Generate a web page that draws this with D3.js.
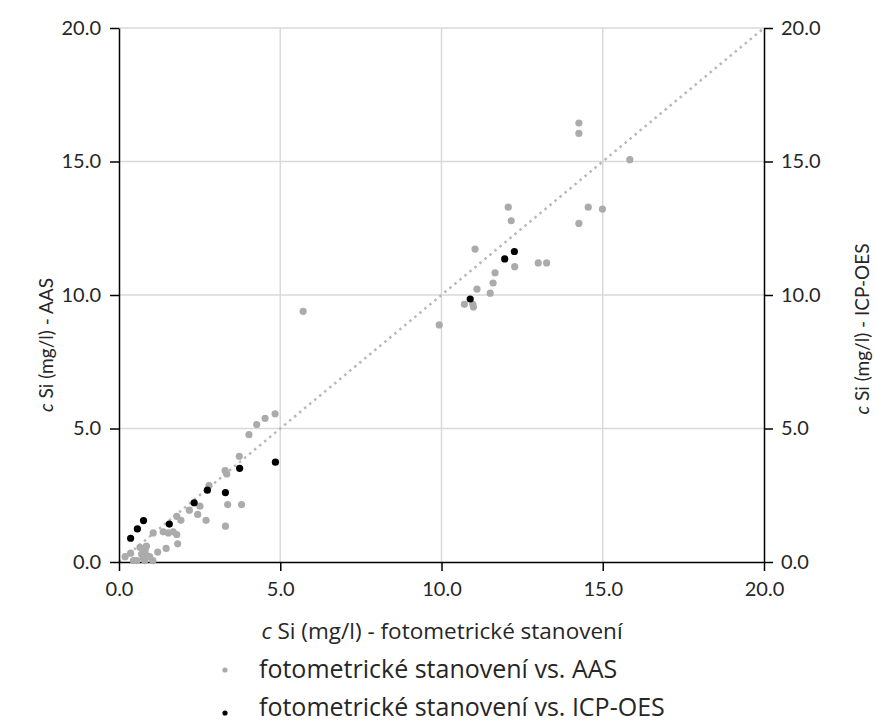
<!DOCTYPE html>
<html>
<head>
<meta charset="utf-8">
<script src="https://cdn.jsdelivr.net/npm/d3@7"></script>
<style>
  body { margin: 0; background: #fff; }
  text { font-family: Lato, "Liberation Sans", sans-serif; fill: #262626; }
</style>
</head>
<body>
<div id="chart"></div>
<script>
// fotometrické stanovení (x) vs. AAS (y)
let aasX = [14.26, 14.26, 15.84, 12.07, 12.16, 14.55, 14.99, 14.26, 11.04, 12.27, 13.0, 13.26,
    11.66, 11.6, 11.1, 11.51, 10.71, 10.97, 10.99, 9.93, 5.71, 4.84, 4.53, 4.27, 4.03, 3.73,
    3.29, 3.34, 2.79, 2.51, 3.37, 3.8, 2.18, 2.44, 1.92, 1.79, 2.7, 3.3, 1.06, 1.37, 1.53,
    1.68, 1.79, 1.82, 1.46, 1.2, 0.81, 0.7, 0.85, 0.75, 0.55, 0.45, 0.8, 1.05, 0.95, 0.36,
    0.19, 0.65, 0.85];
let aasY = [16.44, 16.05, 15.07, 13.29, 12.78, 13.29, 13.22, 12.68, 11.72, 11.06, 11.2, 11.2,
    10.83, 10.45, 10.22, 10.07, 9.65, 9.65, 9.55, 8.88, 9.39, 5.55, 5.38, 5.15, 4.77, 3.96,
    3.42, 3.3, 2.86, 2.09, 2.15, 2.15, 1.94, 1.78, 1.56, 1.71, 1.56, 1.34, 1.09, 1.13, 1.09,
    1.13, 1.03, 0.68, 0.51, 0.37, 0.44, 0.3, 0.25, 0.15, 0.05, 0.05, 0.05, 0.05, 0.2, 0.33,
    0.2, 0.55, 0.6];

// fotometrické stanovení (x) vs. ICP-OES (y)
let icpX = [0.36, 0.57, 0.76, 1.56, 2.33, 2.74, 3.3, 3.74, 4.85, 10.89, 11.96, 12.26];
let icpY = [0.89, 1.24, 1.55, 1.42, 2.22, 2.69, 2.6, 3.51, 3.74, 9.85, 11.35, 11.63];

let ticks = [0, 5, 10, 15, 20];
let legendNames = ["fotometrické stanovení vs. AAS", "fotometrické stanovení vs. ICP-OES"];

let width = 875, height = 722;
let margin = {top: 28, right: 111, bottom: 160, left: 119};

let svg = d3.select("#chart")
    .append("svg")
        .attr("width", width)
        .attr("height", height);

let x = d3.scaleLinear()
    .domain([0, 20])
    .range([margin.left, width - margin.right]);
let y = d3.scaleLinear()
    .domain([0, 20])
    .range([height - margin.bottom, margin.top]);

// grid
svg.append("g")
    .selectAll("line")
    .data(ticks.slice(1, 4))
    .enter()
    .append("line")
        .attr("x1", d => x(d)).attr("x2", d => x(d))
        .attr("y1", y(0)).attr("y2", y(20))
        .attr("stroke", "#d9d9d9").attr("stroke-width", 1.5);
svg.append("g")
    .selectAll("line")
    .data(ticks.slice(1))
    .enter()
    .append("line")
        .attr("x1", x(0)).attr("x2", x(20))
        .attr("y1", d => y(d)).attr("y2", d => y(d))
        .attr("stroke", "#d9d9d9").attr("stroke-width", 1.5);

// 1:1 line
svg.append("line")
    .attr("x1", x(0)).attr("y1", y(0))
    .attr("x2", x(20)).attr("y2", y(20))
    .attr("stroke", "#b8b8b8")
    .attr("stroke-width", 2.5)
    .attr("stroke-dasharray", "2.5,4");

// axes
let fmt = d3.format(".1f");
let styleAxis = function(g) {
    g.select(".domain").attr("stroke", "#000").attr("stroke-width", 1.5);
    g.selectAll(".tick line").attr("stroke", "#000").attr("stroke-width", 1.5);
    g.selectAll(".tick text").attr("fill", "#262626").style("font-size", "20px")
        .style("font-family", "Lato, sans-serif");
}
svg.append("g")
    .attr("transform", "translate(0," + y(0) + ")")
    .call(d3.axisBottom(x).tickValues(ticks).tickFormat(fmt).tickSize(9).tickSizeOuter(0).tickPadding(11))
    .call(styleAxis);
svg.append("g")
    .attr("transform", "translate(" + x(0) + ",0)")
    .call(d3.axisLeft(y).tickValues(ticks).tickFormat(fmt).tickSize(9).tickSizeOuter(0).tickPadding(9))
    .call(styleAxis);
svg.append("g")
    .attr("transform", "translate(" + x(20) + ",0)")
    .call(d3.axisRight(y).tickValues(ticks).tickFormat(fmt).tickSize(9).tickSizeOuter(0).tickPadding(8))
    .call(styleAxis);

// points
svg.append("g")
    .selectAll("circle")
    .data(d3.zip(aasX, aasY))
    .enter()
    .append("circle")
        .attr("cx", d => x(d[0]))
        .attr("cy", d => y(d[1]))
        .attr("r", 3.6)
        .attr("fill", "#ababab");
svg.append("g")
    .selectAll("circle")
    .data(d3.zip(icpX, icpY))
    .enter()
    .append("circle")
        .attr("cx", d => x(d[0]))
        .attr("cy", d => y(d[1]))
        .attr("r", 3.6)
        .attr("fill", "#000");

// axis titles
let title = function(sel, rest) {
    sel.append("tspan").style("font-style", "italic").text("c");
    sel.append("tspan").text(" " + rest);
}
svg.append("text")
    .attr("x", 442).attr("y", 639)
    .attr("text-anchor", "middle")
    .style("font-family", "'Open Sans', sans-serif")
    .style("font-size", "22.5px")
    .call(title, "Si (mg/l) - fotometrické stanovení");
svg.append("text")
    .attr("transform", "translate(53,345) rotate(-90)")
    .attr("text-anchor", "middle")
    .style("font-size", "19px")
    .call(title, "Si (mg/l) - AAS");
svg.append("text")
    .attr("transform", "translate(869,329) rotate(-90)")
    .attr("text-anchor", "middle")
    .style("font-size", "19px")
    .call(title, "Si (mg/l) - ICP-OES");

// legend
let legend = svg.append("g")
    .selectAll("g")
    .data(legendNames)
    .enter()
    .append("g")
        .attr("transform", (d, i) => "translate(225," + (670 + i * 43) + ")");
legend.append("circle")
    .attr("r", 2.6)
    .attr("fill", (d, i) => i == 0 ? "#ababab" : "#000");
legend.append("text")
    .attr("x", 34)
    .attr("y", (d, i) => 8 - i * 5)
    .style("font-family", "'Open Sans', sans-serif")
    .style("font-size", "25px")
    .text(d => d);
</script>
</body>
</html>
